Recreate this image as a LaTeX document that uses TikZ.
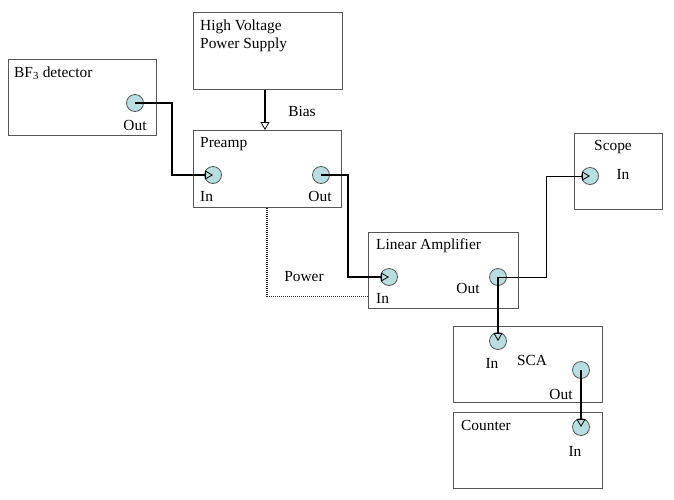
\documentclass[tikz,border=0pt]{standalone}
\usepackage{fontspec}
\setmainfont{Liberation Serif}
\usetikzlibrary{arrows.meta}
\definecolor{portfill}{HTML}{B8DEDF}
\definecolor{boxline}{HTML}{555555}
\tikzset{
  box/.style={draw=boxline, line width=0.9pt, rectangle, anchor=north west, inner sep=0pt},
  port/.style={circle, draw=boxline, line width=0.8pt, fill=portfill, minimum size=17pt, inner sep=0pt},
  lbl/.style={inner sep=0pt, font=\fontsize{15.4}{17}\selectfont},
  wire/.style={line width=1.7pt, -{Triangle[open, length=8pt, width=9pt, line width=0.8pt]}},
  thinwire/.style={line width=1pt, -{Triangle[open, length=8pt, width=9pt, line width=0.8pt]}},
  pwr/.style={line width=1pt, densely dotted, draw=black!85}
}
\begin{document}
\begin{tikzpicture}[x=1pt, y=-1pt]
\useasboundingbox (0,0) rectangle (674,499);
% boxes
\node[box, minimum width=148pt, minimum height=76pt] (bf3) at (8,59) {};
\node[box, minimum width=149pt, minimum height=77pt] (hv) at (193,12) {};
\node[box, minimum width=148pt, minimum height=77pt] (pre) at (193,130) {};
\node[box, minimum width=150pt, minimum height=76pt] (la) at (368,232) {};
\node[box, minimum width=88pt, minimum height=76pt] (scope) at (574,133) {};
\node[box, minimum width=149pt, minimum height=76pt] (sca) at (453,326) {};
\node[box, minimum width=149pt, minimum height=76pt] (cnt) at (453,412) {};
% ports
\node[port] (bf3out) at (135,103) {};
\node[port] (prein) at (213,175) {};
\node[port] (preout) at (321,175) {};
\node[port] (lain) at (389,277) {};
\node[port] (laout) at (498,277) {};
\node[port] (scopein) at (590,176) {};
\node[port] (scain) at (498,341) {};
\node[port] (scaout) at (581,370) {};
\node[port] (cntin) at (581,427) {};
% labels
\node[lbl, anchor=west] (t1) at (14,73) {BF\textsubscript{3} detector};
\node[lbl] (t2) at (135,125) {Out};
\node[lbl, anchor=west] (t3) at (200,27) {High Voltage};
\node[lbl, anchor=west] (t4) at (200,45) {Power Supply};
\node[lbl] (t5) at (302,111) {Bias};
\node[lbl, anchor=west] (t6) at (200,144) {Preamp};
\node[lbl, anchor=west] (t7) at (200,196) {In};
\node[lbl] (t8) at (320,196) {Out};
\node[lbl, anchor=west] (t9) at (376,246) {Linear Amplifier};
\node[lbl] (t10) at (304,277) {Power};
\node[lbl, anchor=west] (t11) at (376,298) {In};
\node[lbl] (t12) at (468,288) {Out};
\node[lbl] (t13) at (613,147) {Scope};
\node[lbl] (t14) at (623,174) {In};
\node[lbl] (t15) at (492,363) {In};
\node[lbl] (t16) at (532,360) {SCA};
\node[lbl] (t17) at (561,394) {Out};
\node[lbl, anchor=west] (t18) at (461,425) {Counter};
\node[lbl] (t19) at (575,451) {In};
% connectors
\draw[wire] (bf3out.center) -| (172,175) -- (prein.center);
\draw[wire] (hv.south -| 265,0) -- (pre.north -| 265,0);
\draw[wire] (preout.center) -| (348,277) -- (lain.center);
\draw[thinwire] (laout.center) -| (546,176) -- (scopein.center);
\draw[wire] (laout.center) -- (scain.center);
\draw[wire] (scaout.center) -- (cntin.center);
\coordinate (pwrbend) at (267,296);
\draw[pwr, line width=1.4pt] (pre.south -| 267,0) -- (pwrbend);
\draw[pwr] (pwrbend) -- (la.west |- pwrbend);
\end{tikzpicture}
\end{document}
